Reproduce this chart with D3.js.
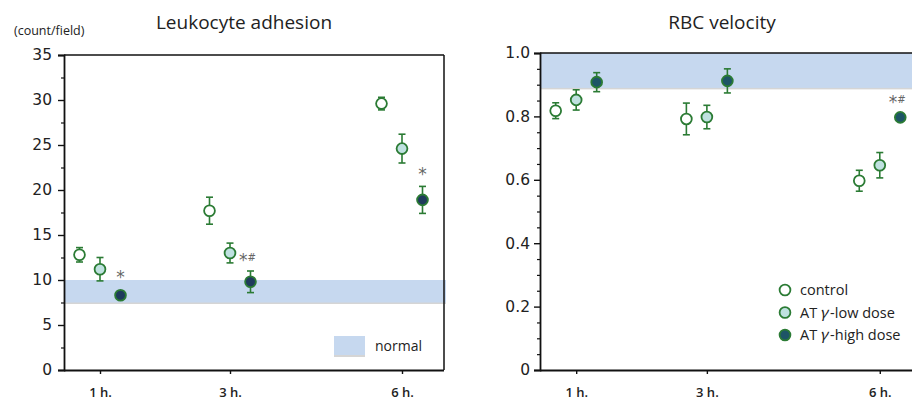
<!DOCTYPE html>
<html><head><meta charset="utf-8">
<script src="https://cdn.jsdelivr.net/npm/d3@7"></script>
<style>body{margin:0;background:#fff}svg{display:block}</style>
</head><body>
<svg id="c" width="912" height="403"></svg>
<script>
// ---- data ----
const hours = [1, 3, 6];
const timeLabels = ["1 h.", "3 h.", "6 h."];
const seriesNames = ["control", "AT\u03b3-low dose", "AT\u03b3-high dose"];
const seriesKeys = ["control", "low", "high"];

const leukoControl = [12.8, 17.7, 29.6];
const leukoControlErr = [0.8, 1.5, 0.7];
const leukoLow = [11.2, 13.0, 24.6];
const leukoLowErr = [1.3, 1.1, 1.6];
const leukoHigh = [8.3, 9.8, 18.9];
const leukoHighErr = [0.3, 1.2, 1.5];
const leukoNormal = [7.5, 10];
const leukoMarks = ["*", "*#", "*"];

const rbcControl = [0.818, 0.792, 0.597];
const rbcControlErr = [0.025, 0.05, 0.033];
const rbcLow = [0.852, 0.798, 0.646];
const rbcLowErr = [0.032, 0.037, 0.04];
const rbcHigh = [0.908, 0.912, 0.797];
const rbcHighErr = [0.03, 0.038, 0.01];
const rbcNormal = [0.89, 1.0];
const rbcMarks = ["", "", "*#"];

const leukoTicks = d3.range(0, 36, 5);
const rbcTicks = [0, 0.2, 0.4, 0.6, 0.8, 1.0];

// ---- style ----
const GREEN = "#2b7b34";
const BAND = "#c6d8ef";
const FONT = "'Open Sans', 'Noto Sans', sans-serif";
const TFONT = "'DejaVu Sans', sans-serif";
const svg = d3.select("#c");

function panel(o) {
  const g = svg.append("g");
  const y = d3.scaleLinear().domain(o.yDomain).range([o.bottom, o.top]);
  const w = o.right - o.left;
  const x = d3.scaleLinear().domain(hours).range([o.left + 36 / 380 * w, o.left + 166 / 380 * w, o.left + 338 / 380 * w]);
  const off = d3.scalePoint().domain(seriesKeys).range([-20.5, 20.5]);

  // title
  g.append("text").attr("x", o.titleX).attr("y", 29).attr("text-anchor", "middle")
    .attr("font-family", FONT).attr("font-size", 19).attr("fill", "#222").text(o.title);

  // normal band
  g.append("rect").attr("x", o.left).attr("y", y(o.band[1]) + 1.5).attr("width", w + 2)
    .attr("height", y(o.band[0]) - y(o.band[1])).attr("fill", "#888").attr("opacity", 0.35);
  g.append("rect").attr("x", o.left).attr("y", y(o.band[1])).attr("width", w + 2)
    .attr("height", y(o.band[0]) - y(o.band[1])).attr("fill", BAND);

  // frame
  g.append("line").attr("x1", o.left).attr("x2", o.right).attr("y1", o.top).attr("y2", o.top).attr("stroke", "#111").attr("stroke-width", 1.5);
  if (o.rightBorder) g.append("line").attr("x1", o.right).attr("x2", o.right).attr("y1", o.top).attr("y2", o.bottom).attr("stroke", "#111").attr("stroke-width", 1.5);

  // y axis
  const ya = g.append("g").attr("transform", `translate(${o.left},0)`)
    .call(d3.axisLeft(y).tickValues(o.ticks).tickFormat(o.fmt).tickSize(6).tickPadding(o.pad));
  ya.select(".domain").attr("stroke", "#111").attr("stroke-width", 1.8);
  ya.selectAll(".tick line").attr("stroke", "#111").attr("stroke-width", 1.4);
  ya.selectAll(".tick text").attr("font-family", TFONT).attr("font-size", 15.5).attr("fill", "#222");
  const minor = d3.range(o.yDomain[0], o.yDomain[1] + 1e-9, o.minor).filter(v => !o.ticks.some(t => Math.abs(t - v) < 1e-6));
  g.append("g").attr("transform", `translate(${o.left},0)`)
    .call(d3.axisLeft(y).tickValues(minor).tickFormat("").tickSize(3))
    .call(s => { s.select(".domain").remove(); s.selectAll("line").attr("stroke", "#111").attr("stroke-width", 1.2); });

  // x axis
  const xa = g.append("g").attr("transform", `translate(0,${o.bottom})`)
    .call(d3.axisBottom(x).tickValues(hours).tickFormat((d, i) => timeLabels[i]).tickSize(4).tickPadding(14).tickSizeOuter(0));
  xa.select(".domain").attr("d", `M${o.left},0.5H${o.right}`).attr("stroke", "#111").attr("stroke-width", 1.8);
  xa.selectAll(".tick line").attr("stroke", "#111").attr("stroke-width", 1.4);
  xa.selectAll(".tick text").attr("font-family", FONT).attr("font-size", 13).attr("font-weight", 600).attr("fill", "#222");

  // points
  const fills = { control: "#ffffff", low: "#bfe1e0", high: o.highFill };
  o.series.forEach((s, si) => {
    const key = seriesKeys[si];
    const pts = hours.map((h, i) => ({ h, m: s.mean[i], e: s.err[i] }));
    const sg = g.append("g");
    sg.selectAll("line.eb").data(pts).join("line").attr("class", "eb")
      .attr("x1", d => x(d.h) + off(key)).attr("x2", d => x(d.h) + off(key))
      .attr("y1", d => y(d.m - d.e)).attr("y2", d => y(d.m + d.e)).attr("stroke", GREEN).attr("stroke-width", 1.6);
    ["-", "+"].forEach(sign => {
      sg.selectAll("line.cap" + (sign === "-" ? "a" : "b")).data(pts).join("line").attr("class", "cap" + (sign === "-" ? "a" : "b"))
        .attr("x1", d => x(d.h) + off(key) - 3.5).attr("x2", d => x(d.h) + off(key) + 3.5)
        .attr("y1", d => y(sign === "-" ? d.m - d.e : d.m + d.e)).attr("y2", d => y(sign === "-" ? d.m - d.e : d.m + d.e))
        .attr("stroke", GREEN).attr("stroke-width", 1.6);
    });
    sg.selectAll("circle").data(pts).join("circle")
      .attr("cx", d => x(d.h) + off(key)).attr("cy", d => y(d.m)).attr("r", 5.4)
      .attr("fill", fills[key]).attr("stroke", GREEN).attr("stroke-width", 1.8);
  });

  // significance marks
  const hi = o.series[2];
  o.marks.forEach((mk, i) => {
    if (!mk) return;
    const t = g.append("text").attr("x", x(hours[i]) + off("high") + (mk.length > 1 ? -3 : 0))
      .attr("y", y(hi.mean[i] + hi.err[i]) - o.markGap[i]).attr("text-anchor", "middle")
      .attr("font-family", TFONT).attr("font-size", 17).attr("fill", "#666");
    t.append("tspan").text("*");
    if (mk.length > 1) t.append("tspan").attr("font-size", 10).attr("font-style", "italic").attr("dy", -5).text("#");
  });
  return { g, x, y };
}

panel({
  left: 64, right: 444, top: 55, bottom: 370, yDomain: [0, 35], ticks: leukoTicks, minor: 2.5,
  fmt: d3.format("d"), pad: 6, title: "Leukocyte adhesion", titleX: 244, band: leukoNormal,
  rightBorder: true, highFill: "#1f3b5c", marks: leukoMarks, markGap: [10, 5, 6],
  series: [
    { mean: leukoControl, err: leukoControlErr },
    { mean: leukoLow, err: leukoLowErr },
    { mean: leukoHigh, err: leukoHighErr }]
});

panel({
  left: 540, right: 922, top: 53, bottom: 370, yDomain: [0, 1], ticks: rbcTicks, minor: 0.05,
  fmt: d => d === 0 ? "0" : d3.format(".1f")(d), pad: 4, title: "RBC velocity", titleX: 722, band: rbcNormal,
  rightBorder: false, highFill: "#1d5566", marks: rbcMarks, markGap: [0, 0, 6],
  series: [
    { mean: rbcControl, err: rbcControlErr },
    { mean: rbcLow, err: rbcLowErr },
    { mean: rbcHigh, err: rbcHighErr }]
});

// unit label
svg.append("text").attr("x", 14).attr("y", 35).attr("font-family", FONT).attr("font-size", 12.5).attr("fill", "#222").text("(count/field)");

// normal legend
svg.append("rect").attr("x", 334).attr("y", 338).attr("width", 31).attr("height", 19).attr("fill", "#888").attr("opacity", 0.35);
svg.append("rect").attr("x", 334).attr("y", 336).attr("width", 31).attr("height", 19).attr("fill", BAND);
svg.append("text").attr("x", 375).attr("y", 351).attr("font-family", FONT).attr("font-size", 14).attr("fill", "#222").text("normal");

// series legend
const legFills = ["#ffffff", "#bfe1e0", "#1d5566"];
const lg = svg.append("g").attr("transform", "translate(785,290)");
const ly = d3.scalePoint().domain(seriesNames).range([0, 45]);
seriesNames.forEach((n, i) => {
  lg.append("circle").attr("cx", 0).attr("cy", ly(n)).attr("r", 5.4).attr("fill", legFills[i]).attr("stroke", GREEN).attr("stroke-width", 1.8);
  const t = lg.append("text").attr("x", 15).attr("y", ly(n) + 5).attr("font-family", FONT).attr("font-size", 14.5).attr("fill", "#222");
  const m = n.match(/^(AT)(\u03b3)(.*)$/);
  if (m) {
    t.append("tspan").text(m[1] + "\u2009");
    t.append("tspan").attr("font-family", "'Noto Sans CJK JP', serif").attr("font-style", "italic").attr("font-size", 15).text(m[2]);
    t.append("tspan").text("\u2009" + m[3]);
  } else t.text(n);
});
</script>
</body></html>
